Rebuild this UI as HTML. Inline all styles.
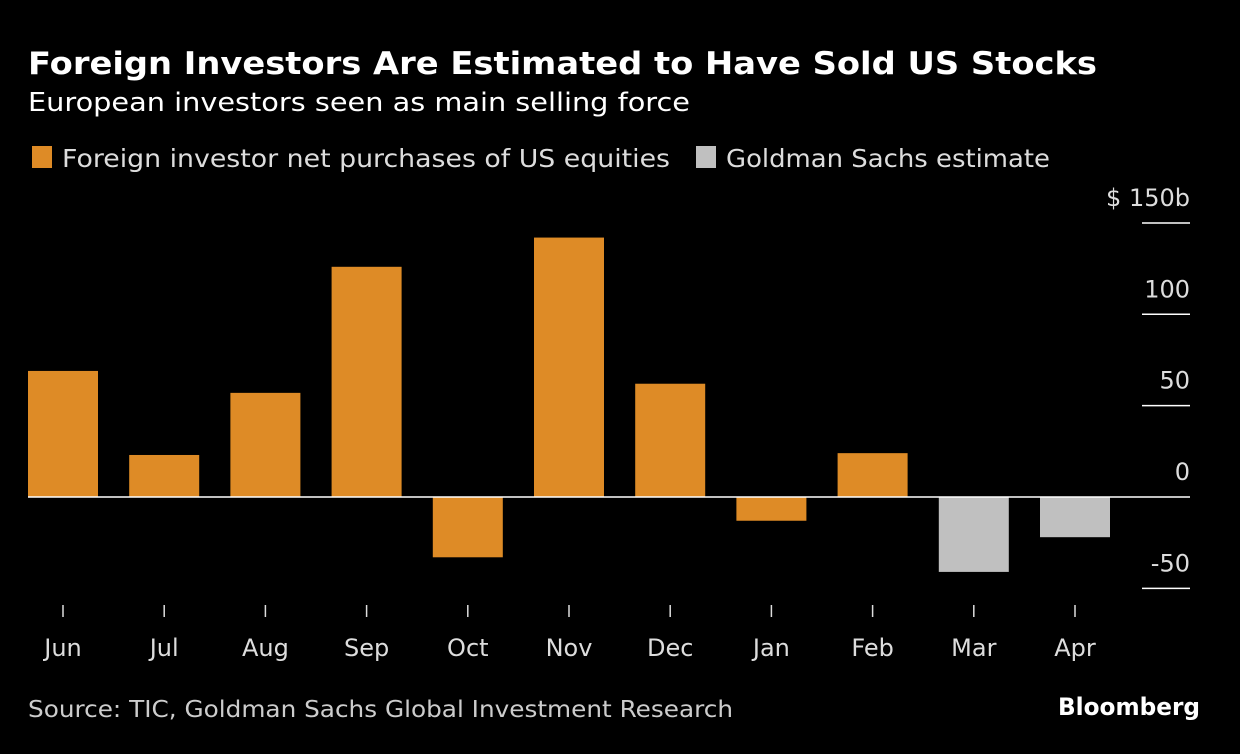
<!DOCTYPE html>
<html><head><meta charset="utf-8"><style>
body{margin:0;background:#000;width:1240px;height:750px;overflow:hidden;font-family:"DejaVu Sans","Liberation Sans",sans-serif;color:#fff}
svg text{font-family:"DejaVu Sans","Liberation Sans",sans-serif}
</style></head><body>
<svg width="1240" height="750">
<text x="28" y="74" font-size="31" font-weight="bold" fill="#fff" textLength="1069" lengthAdjust="spacingAndGlyphs">Foreign Investors Are Estimated to Have Sold US Stocks</text>
<text x="28" y="111" font-size="26" fill="#fff" textLength="662" lengthAdjust="spacingAndGlyphs">European investors seen as main selling force</text>
<g>
<rect x="32" y="146" width="20" height="22" fill="#de8b26"/>
<text x="62" y="167" font-size="25" fill="#ddd" textLength="608" lengthAdjust="spacingAndGlyphs">Foreign investor net purchases of US equities</text>
<rect x="696" y="146" width="20" height="22" fill="#c0c0c0"/>
<text x="726" y="167" font-size="25" fill="#ddd" textLength="324" lengthAdjust="spacingAndGlyphs">Goldman Sachs estimate</text>
</g>
<g id="plot"></g>
<text x="28" y="717" font-size="23" fill="#ccc" textLength="705" lengthAdjust="spacingAndGlyphs">Source: TIC, Goldman Sachs Global Investment Research</text>
<text x="1200" y="715" font-size="24" font-weight="bold" fill="#fff" text-anchor="end" textLength="142" lengthAdjust="spacingAndGlyphs">Bloomberg</text>
</svg>
<script>
const categories=["Jun","Jul","Aug","Sep","Oct","Nov","Dec","Jan","Feb","Mar","Apr"];
const values=[69,23,57,126,-33,142,62,-13,24,-41,-22];
const estimate=[false,false,false,false,false,false,false,false,false,true,true];
const yTicks=[150,100,50,0,-50];
const yTickLabels=["$ 150b","100","50","0","-50"];
const ns="http://www.w3.org/2000/svg";
const g=document.getElementById("plot");
const y=v=>497-v*1.827;
const x=i=>63+i*101.2;
function mk(t,a){const e=document.createElementNS(ns,t);for(const k in a)e.setAttribute(k,a[k]);g.appendChild(e);return e;}
yTicks.forEach((t,i)=>{
 if(t!==0){const l=mk("line",{x1:1142,x2:1190,y1:y(t),y2:y(t),stroke:"#fff","stroke-width":1.5});
 
 }
 const tx=mk("text",{x:1190,y:y(t)-17,"font-size":24,fill:"#ddd","text-anchor":"end"});
 tx.textContent=yTickLabels[i];
 
 
});
categories.forEach((c,i)=>{
 const v=values[i];
 const r=mk("rect",{x:x(i)-35,y:Math.min(y(v),y(0)),width:70,height:Math.abs(y(v)-y(0)),fill:estimate[i]?"#c0c0c0":"#de8b26"});
 
 
 const tk=mk("line",{x1:x(i),x2:x(i),y1:605,y2:617,stroke:"#ddd","stroke-width":1.5});
 
 
 const t=mk("text",{x:x(i),y:656,"font-size":24,fill:"#ddd","text-anchor":"middle"});
 t.textContent=c;
 
 
});
const z=mk("line",{x1:28,x2:1190,y1:y(0),y2:y(0),stroke:"#fff","stroke-width":1.5});


</script>
</body></html>
